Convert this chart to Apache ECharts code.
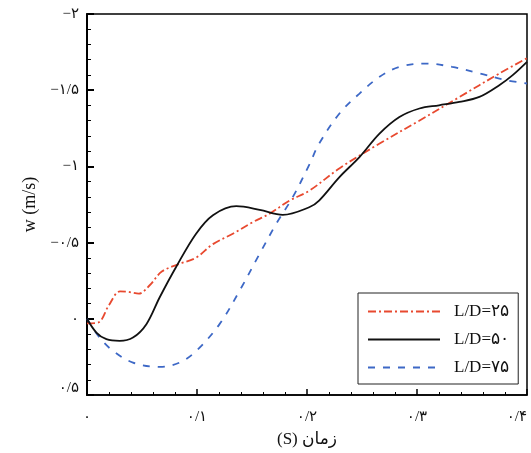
<!DOCTYPE html>
<html>
<head>
<meta charset="utf-8">
<script src="https://cdn.jsdelivr.net/npm/echarts@6/dist/echarts.min.js"></script>
<style>
  html, body { margin: 0; padding: 0; background: #fff; }
  #chart { width: 531px; height: 453px; }
</style>
</head>
<body>
<div id="chart"></div>
<script>
// Time samples (s) and vertical velocity w (m/s) for each slenderness ratio
var tLD25 = [0, 0.01, 0.02, 0.03, 0.039, 0.047, 0.057, 0.068, 0.084, 0.099, 0.1145, 0.133, 0.151, 0.166, 0.184, 0.202, 0.23, 0.266, 0.302, 0.3385, 0.375, 0.4];
var wLD25 = [0.03, 0.025, -0.09, -0.18, -0.175, -0.165, -0.22, -0.31, -0.36, -0.40, -0.49, -0.56, -0.635, -0.69, -0.775, -0.84, -0.99, -1.15, -1.30, -1.455, -1.61, -1.71];

var tLD50 = [0, 0.0085, 0.0176, 0.0297, 0.0418, 0.054, 0.066, 0.081, 0.099, 0.1145, 0.1357, 0.157, 0.178, 0.202, 0.211, 0.2295, 0.2477, 0.2659, 0.284, 0.3022, 0.32, 0.3385, 0.3567, 0.3748, 0.387, 0.4];
var wLD50 = [0, 0.09, 0.134, 0.145, 0.123, 0.035, -0.14, -0.34, -0.557, -0.68, -0.739, -0.715, -0.682, -0.732, -0.776, -0.93, -1.061, -1.215, -1.324, -1.38, -1.401, -1.423, -1.456, -1.533, -1.599, -1.686];

var tLD75 = [0, 0.0115, 0.0236, 0.0418, 0.066, 0.0842, 0.0994, 0.1205, 0.1387, 0.1569, 0.172, 0.187, 0.202, 0.211, 0.2295, 0.2477, 0.266, 0.284, 0.308, 0.332, 0.357, 0.381, 0.4];
var wLD75 = [0, 0.123, 0.21, 0.287, 0.316, 0.287, 0.21, 0.035, -0.184, -0.426, -0.623, -0.798, -1.01, -1.149, -1.347, -1.478, -1.588, -1.653, -1.675, -1.653, -1.61, -1.566, -1.544];

// Axis tick labels (Persian numerals)
var xTickValues = [0, 0.1, 0.2, 0.3, 0.4];
var xTickLabels = ['۰', '۰/۱', '۰/۲', '۰/۳', '۰/۴'];
var yTickValues = [-2, -1.5, -1, -0.5, 0, 0.5];
var yTickLabels = ['−۲', '−۱/۵', '−۱', '−۰/۵', '۰', '۰/۵'];

var seriesNames = ['L/D=۲۵', 'L/D=۵۰', 'L/D=۷۵'];

function pairs(t, w) {
  return t.map(function (x, i) { return [x, w[i]]; });
}
function lookup(values, labels, v) {
  for (var i = 0; i < values.length; i++) {
    if (Math.abs(values[i] - v) < 1e-6) return labels[i];
  }
  return '';
}

var FONT = "'Liberation Serif', 'DejaVu Sans', serif";

var chart = echarts.init(document.getElementById('chart'), null, { renderer: 'canvas' });

chart.setOption({
  animation: false,
  backgroundColor: '#fff',
  grid: {
    left: 87, right: 4, top: 14, bottom: 58,
    show: true, borderColor: '#000', borderWidth: 1.5, backgroundColor: 'transparent'
  },
  legend: {
    orient: 'vertical',
    left: 358, top: 293,
    padding: [10, 9, 8, 9],
    itemWidth: 72, itemHeight: 14, itemGap: 11,
    backgroundColor: '#fff',
    borderColor: '#222', borderWidth: 1,
    itemStyle: { opacity: 0 },
    textStyle: { fontFamily: FONT, fontSize: 17, color: '#111', padding: [0, 0, 0, 9] },
    data: seriesNames
  },
  xAxis: {
    type: 'value', min: 0, max: 0.4, interval: 0.1,
    name: '(S) زمان',
    nameLocation: 'middle', nameGap: 36,
    nameTextStyle: { fontFamily: FONT, fontSize: 17, color: '#111' },
    axisLine: { show: true, onZero: false, lineStyle: { color: '#000', width: 1.5 } },
    axisTick: { show: true, inside: true, length: 6, lineStyle: { color: '#000', width: 1.5 } },
    minorTick: { show: true, splitNumber: 5, length: 3, lineStyle: { color: '#000', width: 1 } },
    splitLine: { show: false },
    axisLabel: {
      margin: 15, fontFamily: FONT, fontSize: 15, color: '#111',
      alignMaxLabel: 'right',
      formatter: function (v) { return lookup(xTickValues, xTickLabels, v); }
    }
  },
  yAxis: {
    type: 'value', min: -2, max: 0.5, interval: 0.5, inverse: true,
    name: 'w (m/s)',
    nameLocation: 'middle', nameGap: 46,
    nameTextStyle: { fontFamily: FONT, fontSize: 18, color: '#111' },
    axisLine: { show: true, onZero: false, lineStyle: { color: '#000', width: 2 } },
    axisTick: { show: true, inside: true, length: 7, lineStyle: { color: '#000', width: 2 } },
    minorTick: { show: true, splitNumber: 5, length: 4, lineStyle: { color: '#000', width: 1 } },
    splitLine: { show: false },
    axisLabel: {
      margin: 8, fontFamily: FONT, fontSize: 15, color: '#111',
      formatter: function (v) {
        var s = lookup(yTickValues, yTickLabels, v);
        return v === 0.5 ? '{lift|' + s + '}' : s;
      },
      rich: { lift: { fontFamily: FONT, fontSize: 15, color: '#111', padding: [0, 0, 14, 0] } }
    }
  },
  series: [
    {
      name: seriesNames[0], type: 'line', smooth: 0.35, symbol: 'none',
      data: pairs(tLD25, wLD25),
      lineStyle: { color: '#e8492f', width: 1.8, type: [8, 3, 2, 3] },
      itemStyle: { color: '#e8492f' },
      z: 3
    },
    {
      name: seriesNames[1], type: 'line', smooth: 0.35, symbol: 'none',
      data: pairs(tLD50, wLD50),
      lineStyle: { color: '#111', width: 1.8, type: 'solid' },
      itemStyle: { color: '#111' },
      z: 4
    },
    {
      name: seriesNames[2], type: 'line', smooth: 0.35, symbol: 'none',
      data: pairs(tLD75, wLD75),
      lineStyle: { color: '#3d68c6', width: 1.8, type: [7, 8] },
      itemStyle: { color: '#3d68c6' },
      z: 2
    }
  ]
});
</script>
</body>
</html>
